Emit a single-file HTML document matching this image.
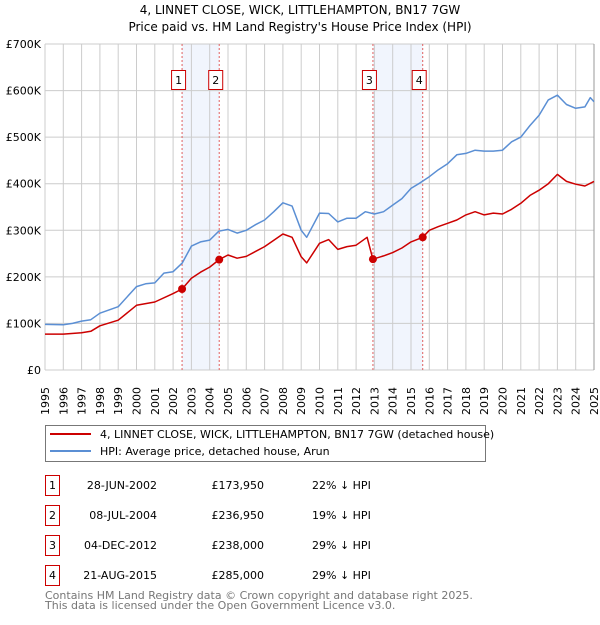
<!DOCTYPE html>
<html><head><meta charset="utf-8"><style>
body{margin:0;background:#fff;font-family:"Liberation Sans","DejaVu Sans",sans-serif;}
svg text{font-family:"DejaVu Sans","Liberation Sans",sans-serif;}
</style></head><body>
<svg id="c" width="600" height="620" xmlns="http://www.w3.org/2000/svg">
<text x="300" y="14" text-anchor="middle" font-size="12">4, LINNET CLOSE, WICK, LITTLEHAMPTON, BN17 7GW</text>
<text x="300" y="31" text-anchor="middle" font-size="12">Price paid vs. HM Land Registry's House Price Index (HPI)</text>
<g id="plot"></g>
<g>
<rect x="45.5" y="425.5" width="440" height="36" fill="#fff" stroke="#777"/>
<line x1="50" y1="434" x2="91" y2="434" stroke="#cc0000" stroke-width="2"/>
<text x="100" y="438" font-size="11">4, LINNET CLOSE, WICK, LITTLEHAMPTON, BN17 7GW (detached house)</text>
<line x1="50" y1="451" x2="91" y2="451" stroke="#5b8fd4" stroke-width="2"/>
<text x="100" y="455" font-size="11">HPI: Average price, detached house, Arun</text>
</g>
<g id="table" font-size="11"></g>
<text x="45" y="599" font-size="11" fill="#777">Contains HM Land Registry data © Crown copyright and database right 2025.</text>
<text x="45" y="609" font-size="11" fill="#777">This data is licensed under the Open Government Licence v3.0.</text>
</svg>
<script>
const hpiYears=[1995,1996,1996.5,1997,1997.5,1998,1999,2000,2000.5,2001,2001.5,2002,2002.5,2003,2003.5,2004,2004.5,2005,2005.5,2006,2006.5,2007,2007.5,2008,2008.5,2009,2009.3,2010,2010.5,2011,2011.5,2012,2012.5,2013,2013.5,2014,2014.5,2015,2015.5,2016,2016.5,2017,2017.5,2018,2018.5,2019,2019.5,2020,2020.5,2021,2021.5,2022,2022.5,2023,2023.5,2024,2024.5,2024.8,2025];
const hpiValues=[98,97,100,105,108,122,136,179,185,187,208,211,230,266,275,279,298,302,294,300,312,322,340,359,352,300,285,337,336,318,326,326,340,335,340,354,368,390,402,415,430,443,462,465,472,470,470,472,490,500,525,547,580,590,570,562,565,585,576];
const propYears=[1995,1996,1997,1997.5,1998,1999,2000,2001,2002,2002.49,2003,2003.5,2004,2004.52,2005,2005.5,2006,2007,2008,2008.5,2009,2009.3,2010,2010.5,2011,2011.5,2012,2012.6,2012.92,2013.5,2014,2014.5,2015,2015.64,2016,2016.5,2017,2017.5,2018,2018.5,2019,2019.5,2020,2020.5,2021,2021.5,2022,2022.5,2023,2023.5,2024,2024.5,2025];
const propValues=[77,77,80,83,95,107,139,146,164,174,197,210,221,237,247,240,244,265,292,285,243,230,272,280,259,265,268,285,238,245,252,262,275,285,300,308,315,322,333,340,333,337,335,345,358,375,386,400,420,405,399,395,405];
const saleLabels=["1","2","3","4"];
const saleDates=[2002.49,2004.52,2012.92,2015.64];
const salePrices=[173.95,236.95,238,285];
const saleDateText=["28-JUN-2002","08-JUL-2004","04-DEC-2012","21-AUG-2015"];
const salePriceText=["£173,950","£236,950","£238,000","£285,000"];
const salePctText=["22% ↓ HPI","19% ↓ HPI","29% ↓ HPI","29% ↓ HPI"];
const yTicks=[0,100,200,300,400,500,600,700];
const yTickLabels=["£0","£100K","£200K","£300K","£400K","£500K","£600K","£700K"];
const xTicks=[1995,1996,1997,1998,1999,2000,2001,2002,2003,2004,2005,2006,2007,2008,2009,2010,2011,2012,2013,2014,2015,2016,2017,2018,2019,2020,2021,2022,2023,2024,2025];

const NS="http://www.w3.org/2000/svg";
const X0=45,X1=594,Y0=370,Y1=44;
const xs=v=>X0+(v-1995)/30*(X1-X0);
const ys=v=>Y0-v/700*(Y0-Y1);
const plot=document.getElementById('plot');
function mk(tag,attrs,parent){const e=document.createElementNS(NS,tag);for(const k in attrs)e.setAttribute(k,attrs[k]);(parent||plot).appendChild(e);return e;}
// shaded
for(let i=0;i<saleDates.length;i+=2){
 const r=mk('rect',{x:xs(saleDates[i]),y:Y1,width:xs(saleDates[i+1])-xs(saleDates[i]),height:Y0-Y1,fill:'#eef3fc',opacity:0.8});
 
 
}
// grid
xTicks.forEach(t=>{const l=mk('line',{x1:xs(t),x2:xs(t),y1:Y1,y2:Y0,stroke:'#ccc','stroke-width':1});
 
 
 const tx=mk('text',{transform:`translate(${xs(t)+4},${Y0+45}) rotate(-90)`,'font-size':11});
 tx.textContent=t;
 
 
});
yTicks.forEach((t,i)=>{const l=mk('line',{x1:X0,x2:X1,y1:ys(t),y2:ys(t),stroke:'#ccc','stroke-width':1});
 
 
 const tx=mk('text',{x:X0-4,y:ys(t)+4,'text-anchor':'end','font-size':11});
 tx.textContent=yTickLabels[i];
 
 
});
const ax=mk('line',{x1:X1,x2:X1,y1:Y1,y2:Y0,stroke:'#999','stroke-width':1});


// sale lines and boxes
saleDates.forEach((d,i)=>{
 const l=mk('line',{x1:xs(d),x2:xs(d),y1:Y1,y2:Y0,stroke:'#e06060','stroke-width':1,'stroke-dasharray':'2,2'});
 
 
 const b=mk('rect',{x:xs(d)-10.5,y:70.5,width:14,height:19,fill:'#fff',stroke:'#cc0000'});
 
 
 const t=mk('text',{x:xs(d)-3.5,y:84,'text-anchor':'middle','font-size':11});
 t.textContent=saleLabels[i];
 
 
});
function line(xsArr,vals,color,name){
 const p=mk('polyline',{points:xsArr.map((x,i)=>xs(x).toFixed(1)+','+ys(vals[i]).toFixed(1)).join(' '),fill:'none',stroke:color,'stroke-width':1.5,'stroke-linejoin':'round'});
 
 
}
line(hpiYears,hpiValues,'#5b8fd4','hpi-line');
line(propYears,propValues,'#cc0000','property-price-line');
saleDates.forEach((d,i)=>{
 const c=mk('circle',{cx:xs(d),cy:ys(salePrices[i]),r:4,fill:'#cc0000'});
 
 
});
// table
const tb=document.getElementById('table');
saleLabels.forEach((s,i)=>{
 const y=475+i*30;
 const r=mk('rect',{x:45.5,y:y+0.5,width:14,height:20,fill:'#fff',stroke:'#cc0000'},tb);
 
 
 const n=mk('text',{x:52.5,y:y+14,'text-anchor':'middle'},tb);
 n.textContent=s;
 
 
 const dt=mk('text',{x:157,y:y+14,'text-anchor':'end'},tb);
 dt.textContent=saleDateText[i];
 
 
 const pr=mk('text',{x:264,y:y+14,'text-anchor':'end'},tb);
 pr.textContent=salePriceText[i];
 
 
 const pc=mk('text',{x:312,y:y+14},tb);
 pc.textContent=salePctText[i];
 
 
});
</script>
</body></html>
